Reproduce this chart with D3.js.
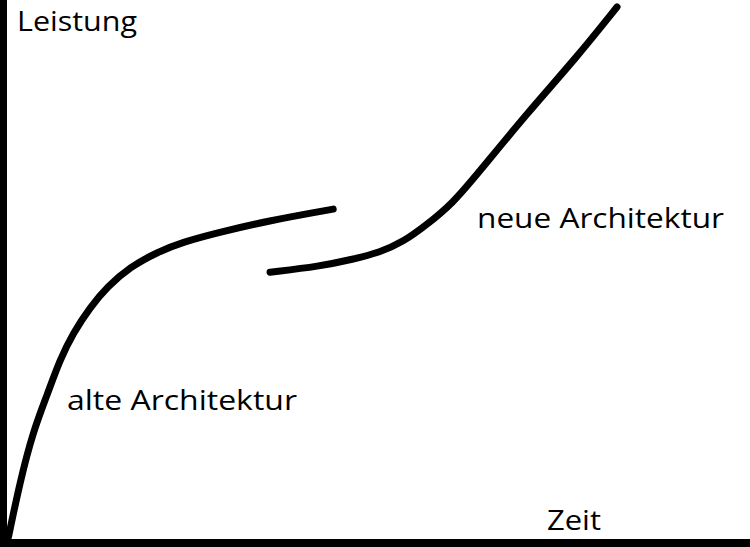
<!DOCTYPE html>
<html><head><meta charset="utf-8">
<script src="https://cdn.jsdelivr.net/npm/d3@7"></script>
<style>html,body{margin:0;padding:0;background:#fff;overflow:hidden}</style>
</head><body>
<svg id="c" width="750" height="547"></svg>
<script>
// Data (Zeit 0-100, Leistung 0-100)
const alteZeit     = [0.2, 1.75, 3.5, 5.4, 7.1, 8.9, 11.2, 13.5, 16.6, 20.2, 23.7, 28.3, 35.0, 43.9];
const alteLeistung = [0.4, 10.6, 19.9, 26.7, 33.2, 38.2, 43.0, 46.8, 50.5, 53.2, 55.1, 56.8, 59.0, 61.2];
const neueZeit     = [35.4, 42.1, 46.6, 50.2, 53.3, 56.5, 60.0, 63.3, 70.0, 76.7, 82.1];
const neueLeistung = [49.5, 50.6, 51.9, 53.2, 55.1, 58.3, 62.3, 67.7, 79.0, 89.4, 98.7];
const labels = ["alte Architektur", "neue Architektur"];
const axisLabels = ["Leistung", "Zeit"];

const svg = d3.select("#c");
const W = 750, H = 547;
const x = d3.scaleLinear().domain([0, 100]).range([7, 750]);
const y = d3.scaleLinear().domain([0, 100]).range([539, 0]);

const line = d3.line().x(d => x(d[0])).y(d => y(d[1])).curve(d3.curveBasis);
const series = [d3.zip(alteZeit, alteLeistung), d3.zip(neueZeit, neueLeistung)];
svg.selectAll("path.s").data(series).join("path")
  .attr("class", "s").attr("d", line)
  .attr("fill", "none").attr("stroke", "#000").attr("stroke-width", 7)
  .attr("stroke-linecap", "round").attr("stroke-linejoin", "round");

// axes
svg.append("rect").attr("x", 0).attr("y", 0).attr("width", 7).attr("height", H).attr("fill", "#000");
svg.append("rect").attr("x", 0).attr("y", 539).attr("width", W).attr("height", 8).attr("fill", "#000");

const font = "'Open Sans', 'Noto Sans', sans-serif";
const t = [
  {s: axisLabels[0], x: 17, y: 31, w: 120},
  {s: axisLabels[1], x: 547, y: 530, w: 54},
  {s: labels[0], x: 67, y: 410, w: 230},
  {s: labels[1], x: 477, y: 228, w: 247}
];
svg.selectAll("text").data(t).join("text")
  .attr("x", d => d.x).attr("y", d => d.y)
  .attr("font-family", font).attr("font-size", 27).attr("fill", "#000")
  .attr("textLength", d => d.w).attr("lengthAdjust", "spacingAndGlyphs")
  .text(d => d.s);
</script>
</body></html>
